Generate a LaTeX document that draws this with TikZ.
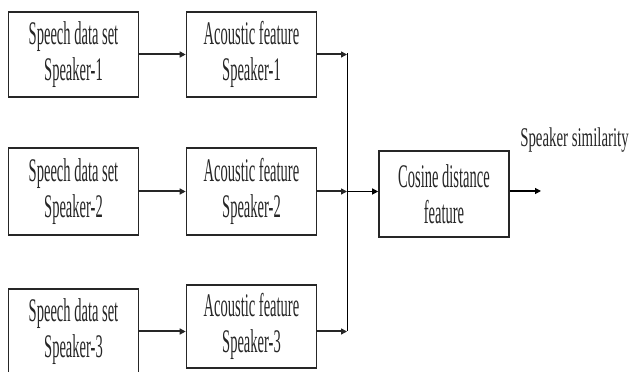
\documentclass[tikz,border=0pt]{standalone}
\usepackage{fontspec}
\setmainfont{Liberation Serif}
\newfontfamily\boxfont[FakeStretch=0.44]{Liberation Serif}
\newfontfamily\labfont[FakeStretch=0.55]{Liberation Serif}
\usetikzlibrary{arrows.meta}
\begin{document}
\begin{tikzpicture}[x=1pt,y=1pt,
  blk/.style={draw=black!85, line width=1.6pt, minimum width=130pt, minimum height=85pt,
    inner sep=0pt, align=center, text=black!85,
    font=\boxfont\fontsize{33}{36}\selectfont},
  thickarr/.style={draw=black!85, line width=2pt, -{Triangle[length=6pt,width=6pt]}},
  thinarr/.style={draw=black, line width=1.2pt, -{Triangle[length=6pt,width=6pt]}},
  busline/.style={draw=black, line width=1pt}]
\useasboundingbox (0,0) rectangle (629,372);
\node[blk] (s1) at (73.5,317.5) {Speech data set\\Speaker-1};
\node[blk] (a1) at (251.5,317.5) {Acoustic feature\\Speaker-1};
\node[blk, minimum height=87pt] (s2) at (73.5,180.5) {Speech data set\\Speaker-2};
\node[blk, minimum height=87pt] (a2) at (251.5,180.5) {Acoustic feature\\Speaker-2};
\node[blk, minimum height=86pt] (c) at (444,178) {Cosine distance\\feature};
\node[blk] (s3) at (73.5,40.5) {Speech data set\\Speaker-3};
\node[blk, minimum height=83pt] (a3) at (251.5,45.5) {Acoustic feature\\Speaker-3};
\node[text=black!85, font=\labfont\fontsize{27}{30}\selectfont, inner sep=0pt] (lab) at (574.5,232) {Speaker similarity};
\coordinate (bt) at (347,319);
\coordinate (bb) at (347,40.5);
\coordinate (out) at (541,181);
\draw[busline] (bt) -- (bb);
\draw[thickarr] (s1.east) -- (s1.east -| a1.west);
\draw[thickarr] (s2.east) -- (s2.east -| a2.west);
\draw[thickarr] (s3.east) -- (s3.east -| a3.west);
\draw[thickarr] (a1.east) -- (a1.east -| bt);
\draw[thickarr] (a2.east) -- (a2.east -| bt);
\draw[thickarr] (s3.east -| a3.east) -- (s3.east -| bt);
\draw[thinarr] (a2.east -| bt) -- (a2.east -| c.west);
\draw[thinarr] (c.east |- out) -- (out);
\end{tikzpicture}
\end{document}
